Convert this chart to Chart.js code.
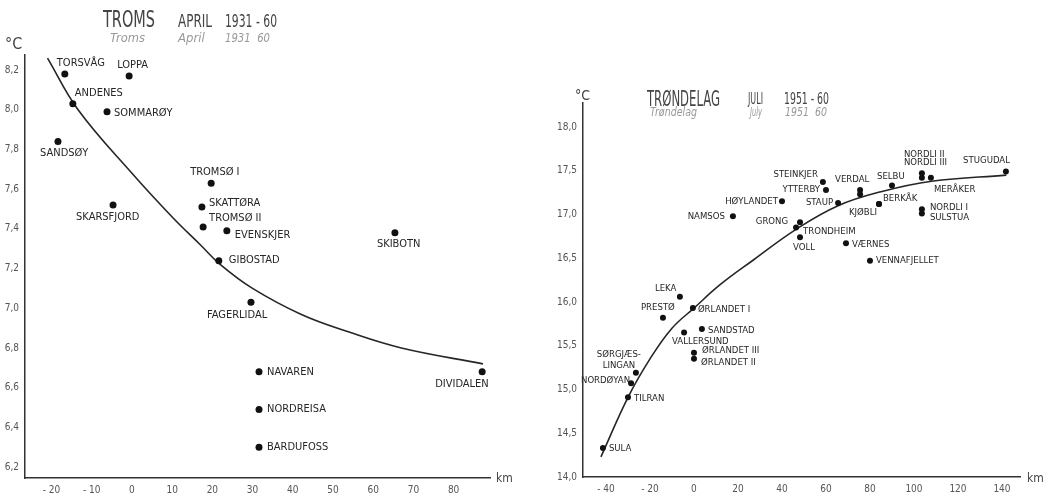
<!DOCTYPE html>
<html>
<head>
<meta charset="utf-8">
<script src="https://cdn.jsdelivr.net/npm/chart.js@4/dist/chart.umd.min.js"></script>
<style>
  html, body { margin: 0; padding: 0; background: #fff; }
  #wrap { position: relative; width: 1049px; height: 494px; overflow: hidden; }
  #troms { position: absolute; left: 0; top: 0; }
  #trond { position: absolute; left: 520px; top: 0; }
</style>
</head>
<body>
<div id="wrap">
  <canvas id="troms" width="520" height="494"></canvas>
  <canvas id="trond" width="529" height="494"></canvas>
</div>
<script>
// ---- Troms, April mean temperature 1931-60 (°C) vs. distance (km) ----
const tromsNames = ['TORSVÅG', 'LOPPA', 'ANDENES', 'SOMMARØY', 'SANDSØY', 'TROMSØ I', 'SKATTØRA',
  'SKARSFJORD', 'TROMSØ II', 'EVENSKJER', 'SKIBOTN', 'GIBOSTAD', 'FAGERLIDAL', 'NAVAREN',
  'NORDREISA', 'BARDUFOSS', 'DIVIDALEN'];
const tromsKm   = [-16.7, -0.7, -14.7, -6.2, -18.4, 19.7, 17.4, -4.7, 17.7, 23.6, 65.4, 21.6, 29.6, 31.6, 31.6, 31.6, 87.1];
const tromsTemp = [8.18, 8.17, 8.03, 7.99, 7.84, 7.63, 7.51, 7.52, 7.41, 7.39, 7.38, 7.24, 7.03, 6.68, 6.49, 6.30, 6.68];
const tromsCurveKm   = [-21, -13.4, 0, 10, 17, 22, 30, 42, 54, 67, 87.3];
const tromsCurveTemp = [8.26, 8.00, 7.68, 7.46, 7.32, 7.22, 7.10, 6.97, 6.88, 6.80, 6.72];
const tromsXTicks = [-20, -10, 0, 10, 20, 30, 40, 50, 60, 70, 80];
const tromsYTicks = [6.2, 6.4, 6.6, 6.8, 7.0, 7.2, 7.4, 7.6, 7.8, 8.0, 8.2];

// ---- Trøndelag, July mean temperature 1951-60 (°C) vs. distance (km) ----
const trondNames = ['SULA', 'TILRAN', 'NORDØYAN', 'SØRGJÆS-\nLINGAN', 'PRESTØ', 'LEKA', 'ØRLANDET I',
  'SANDSTAD', 'VALLERSUND', 'ØRLANDET III', 'ØRLANDET II', 'NAMSOS', 'HØYLANDET', 'GRONG',
  'TRONDHEIM', 'VOLL', 'STEINKJER', 'YTTERBY', 'STAUP', 'VERDAL', '', 'SELBU', 'KJØBLI', 'BERKÅK',
  'NORDLI II', 'NORDLI III', 'MERÅKER', 'NORDLI I', 'SULSTUA', 'STUGUDAL', 'VÆRNES', 'VENNAFJELLET'];
const trondKm   = [-41.4, -30.0, -28.6, -26.4, -14.1, -6.4, -0.5, 3.6, -4.5, 0, 0, 17.7, 40.0, 46.4,
  48.2, 48.2, 58.6, 60.0, 65.5, 75.5, 75.5, 90.0, 84.1, 84.1, 103.6, 103.6, 107.7, 103.6, 103.6, 141.8, 69.1, 80.0];
const trondTemp = [14.33, 14.91, 15.07, 15.19, 15.82, 16.06, 15.93, 15.69, 15.65, 15.42, 15.35, 16.98, 17.15, 16.85,
  16.91, 16.74, 17.37, 17.28, 17.13, 17.28, 17.23, 17.33, 17.12, 17.12, 17.47, 17.42, 17.42, 17.06, 17.01, 17.49, 16.67, 16.47];
const trondCurveKm   = [-42.3, -30, -20, -10, 0, 12, 27, 46.4, 65.5, 85, 108, 142];
const trondCurveTemp = [14.23, 14.91, 15.35, 15.70, 15.93, 16.20, 16.48, 16.83, 17.10, 17.26, 17.38, 17.45];
const trondXTicks = [-40, -20, 0, 20, 40, 60, 80, 100, 120, 140];
const trondYTicks = [14.0, 14.5, 15.0, 15.5, 16.0, 16.5, 17.0, 17.5, 18.0];

// label placement next to each dot: [dx, dy, align]
const tromsLabelPos = {
  'TORSVÅG': [-8, -11, 'left'], 'LOPPA': [-12, -11, 'left'], 'ANDENES': [2, -11, 'left'],
  'SOMMARØY': [7, 1, 'left'], 'SANDSØY': [-18, 12, 'left'], 'TROMSØ I': [-21, -11, 'left'],
  'SKATTØRA': [7, -4, 'left'], 'SKARSFJORD': [-37, 12, 'left'], 'TROMSØ II': [6, -9, 'left'],
  'EVENSKJER': [8, 4, 'left'], 'SKIBOTN': [-18, 11, 'left'], 'GIBOSTAD': [10, -1, 'left'],
  'FAGERLIDAL': [-44, 13, 'left'], 'NAVAREN': [8, 0, 'left'], 'NORDREISA': [8, 0, 'left'],
  'BARDUFOSS': [8, 0, 'left'], 'DIVIDALEN': [-47, 12, 'left']
};
const trondLabelPos = {
  'SULA': [6, 0, 'left'], 'TILRAN': [6, 1, 'left'], 'NORDØYAN': [-1, -3, 'right'],
  'SØRGJÆS-\nLINGAN': [-17, -18, 'center'], 'PRESTØ': [-22, -10, 'left'], 'LEKA': [-25, -8, 'left'],
  'ØRLANDET I': [5, 1, 'left'], 'SANDSTAD': [6, 1, 'left'], 'VALLERSUND': [-12, 9, 'left'],
  'ØRLANDET III': [8, -2, 'left'], 'ØRLANDET II': [7, 4, 'left'], 'NAMSOS': [-8, 0, 'right'],
  'HØYLANDET': [-4, 0, 'right'], 'GRONG': [-8, -6, 'right'], 'TRONDHEIM': [3, 9, 'left'],
  'VOLL': [-7, 10, 'left'], 'STEINKJER': [-5, -8, 'right'], 'YTTERBY': [-6, 0, 'right'],
  'STAUP': [-5, -1, 'right'], 'VERDAL': [-25, -10, 'left'], 'SELBU': [-15, -9, 'left'],
  'KJØBLI': [-2, 9, 'right'], 'BERKÅK': [4, -5, 'left'], 'NORDLI II': [-18, -19, 'left'],
  'NORDLI III': [-18, -15, 'left'], 'MERÅKER': [3, 12, 'left'], 'NORDLI I': [8, -2, 'left'],
  'SULSTUA': [8, 4, 'left'], 'STUGUDAL': [4, -11, 'right'], 'VÆRNES': [6, 1, 'left'],
  'VENNAFJELLET': [6, 0, 'left']
};

const INK = '#262626';
const COND = '"DejaVu Sans Condensed", "Liberation Sans Narrow", sans-serif';
const THIN = '"Liberation Sans Narrow", "DejaVu Sans Condensed", sans-serif';

function pts(xs, ys) { return xs.map((x, i) => ({ x: x, y: ys[i] })); }
function fmtKm(v) { return v < 0 ? '- ' + Math.abs(v) : String(v); }
function fmtDeg(v) { return v.toFixed(1).replace('.', ','); }

function stationLabels(names, placement, fontPx) {
  return {
    id: 'stationLabels',
    afterDraw(chart) {
      const ctx = chart.ctx;
      const meta = chart.getDatasetMeta(1);
      ctx.save();
      ctx.fillStyle = INK;
      ctx.font = fontPx + 'px ' + COND;
      ctx.textBaseline = 'middle';
      meta.data.forEach((el, i) => {
        const name = names[i];
        if (!name) return;
        const p = placement[name] || [6, 0, 'left'];
        ctx.textAlign = p[2];
        name.split('\n').forEach((line, k) => {
          ctx.fillText(line, el.x + p[0], el.y + p[1] + k * 11);
        });
      });
      ctx.restore();
    }
  };
}

// heading lines, each squeezed into its own width
function headings(items) {
  return {
    id: 'headings',
    afterDraw(chart) {
      const ctx = chart.ctx;
      ctx.save();
      ctx.textBaseline = 'alphabetic';
      ctx.textAlign = 'left';
      items.forEach(t => {
        ctx.font = t.font;
        ctx.fillStyle = t.color;
        if (t.w) ctx.fillText(t.text, t.x, t.y, t.w);
        else ctx.fillText(t.text, t.x, t.y);
      });
      ctx.restore();
    }
  };
}

function makeChart(id, cfg) {
  return new Chart(document.getElementById(id), {
    type: 'scatter',
    data: {
      datasets: [
        {
          data: cfg.curve, showLine: true, borderColor: INK, borderWidth: 1.6,
          pointRadius: 0, tension: 0.4, order: 2
        },
        {
          data: cfg.points, backgroundColor: '#111', borderColor: '#111',
          pointRadius: cfg.dot, pointBorderWidth: 0, order: 1
        }
      ]
    },
    options: {
      responsive: false,
      animation: false,
      devicePixelRatio: 1,
      layout: { padding: cfg.padding },
      plugins: { legend: { display: false }, tooltip: { enabled: false } },
      scales: {
        x: {
          type: 'linear', min: cfg.xMin, max: cfg.xMax,
          afterBuildTicks: s => { s.ticks = cfg.xTicks.map(v => ({ value: v })); },
          afterFit: s => { s.height = cfg.xH; },
          grid: { display: false, drawTicks: false },
          border: { display: true, color: '#333', width: 1.5 },
          ticks: { padding: 6, color: '#555', font: { family: COND, size: 10 }, callback: v => fmtKm(v), maxRotation: 0, autoSkip: false }
        },
        y: {
          type: 'linear', min: cfg.yMin, max: cfg.yMax,
          afterBuildTicks: s => { s.ticks = cfg.yTicks.map(v => ({ value: v })); },
          afterFit: s => { s.width = cfg.yW; },
          grid: { display: false, drawTicks: false },
          border: { display: true, color: '#333', width: 1.5 },
          ticks: { padding: 6, color: '#555', font: { family: COND, size: 10 }, callback: v => fmtDeg(v), autoSkip: false }
        }
      }
    },
    plugins: [stationLabels(cfg.names, cfg.labelPos, cfg.labelPx), headings(cfg.headings)]
  });
}

makeChart('troms', {
  points: pts(tromsKm, tromsTemp), curve: pts(tromsCurveKm, tromsCurveTemp), names: tromsNames,
  labelPos: tromsLabelPos, labelPx: 11, dot: 3.5,
  xMin: -26.6, xMax: 89.05, yMin: 6.145, yMax: 8.276,
  xTicks: tromsXTicks, yTicks: tromsYTicks, xH: 16, yW: 25,
  padding: { left: 0, top: 55, right: 30, bottom: 0 },
  headings: [
    { text: 'TROMS', x: 103, y: 27, w: 52, font: '23px ' + THIN, color: '#444' },
    { text: 'APRIL', x: 178, y: 27, w: 34, font: '17px ' + THIN, color: '#444' },
    { text: '1931 - 60', x: 225, y: 27, w: 52, font: '17px ' + THIN, color: '#444' },
    { text: 'Troms', x: 110, y: 42, w: 35, font: 'italic 13px ' + THIN, color: '#999' },
    { text: 'April', x: 178, y: 42, w: 29, font: 'italic 13px ' + THIN, color: '#999' },
    { text: '1931  60', x: 225, y: 42, w: 45, font: 'italic 13px ' + THIN, color: '#999' },
    { text: '°C', x: 5, y: 49, font: '16px ' + THIN, color: '#444' },
    { text: 'km', x: 496, y: 482, font: '12px ' + THIN, color: '#444' }
  ]
});

makeChart('trond', {
  points: pts(trondKm, trondTemp), curve: pts(trondCurveKm, trondCurveTemp), names: trondNames,
  labelPos: trondLabelPos, labelPx: 9.5, dot: 3,
  xMin: -50.45, xMax: 148.2, yMin: 14.0, yMax: 18.274,
  xTicks: trondXTicks, yTicks: trondYTicks, xH: 17, yW: 63,
  padding: { left: 0, top: 103, right: 29, bottom: 0 },
  headings: [
    { text: 'TRØNDELAG', x: 127, y: 106, w: 73, font: '21px ' + THIN, color: '#444' },
    { text: 'JULI', x: 228, y: 104, w: 15, font: '15px ' + THIN, color: '#444' },
    { text: '1951 - 60', x: 264, y: 104, w: 45, font: '15px ' + THIN, color: '#444' },
    { text: 'Trøndelag', x: 130, y: 116, w: 47, font: 'italic 12px ' + THIN, color: '#999' },
    { text: 'July', x: 230, y: 116, w: 12, font: 'italic 12px ' + THIN, color: '#999' },
    { text: '1951  60', x: 265, y: 116, w: 42, font: 'italic 12px ' + THIN, color: '#999' },
    { text: '°C', x: 55, y: 100, font: '14px ' + THIN, color: '#444' },
    { text: 'km', x: 507, y: 482, font: '12px ' + THIN, color: '#444' }
  ]
});
</script>
</body>
</html>
